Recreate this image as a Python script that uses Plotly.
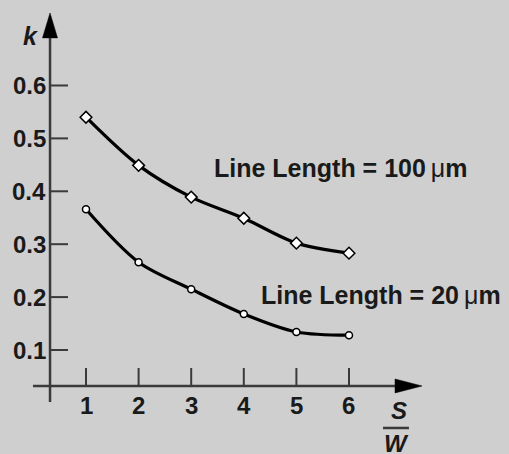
import plotly.graph_objects as go

# ---- data ----
sw_ratio = [1, 2, 3, 4, 5, 6]
k_100um = [0.540, 0.449, 0.389, 0.349, 0.302, 0.283]
k_20um = [0.366, 0.266, 0.215, 0.168, 0.134, 0.128]
y_ticks = [0.1, 0.2, 0.3, 0.4, 0.5, 0.6]
y_tick_labels = ["0.1", "0.2", "0.3", "0.4", "0.5", "0.6"]
x_ticks = [1, 2, 3, 4, 5, 6]
x_tick_labels = ["1", "2", "3", "4", "5", "6"]
label_100 = "Line Length = 100<span style=\"font-weight:normal\">\u2009\u03bc</span>m"
label_20 = "Line Length = 20<span style=\"font-weight:normal\">\u2009\u03bc</span>m"

BG = "#cfcfcf"
AX = "#3a3a3a"
FONT = "Liberation Sans, Arial, sans-serif"

# axis geometry (data units)
x_axis_level = 0.032
y_axis_pos = 0.316

fig = go.Figure()

fig.add_trace(go.Scatter(
    x=sw_ratio, y=k_100um, mode="lines+markers",
    line=dict(color="black", width=3.2, shape="spline", smoothing=0.9),
    marker=dict(symbol="diamond", size=9, color="white",
                line=dict(color="black", width=1.5)),
    showlegend=False, hoverinfo="skip"))
fig.add_trace(go.Scatter(
    x=sw_ratio, y=k_20um, mode="lines+markers",
    line=dict(color="black", width=3.2, shape="spline", smoothing=0.9),
    marker=dict(symbol="circle", size=7, color="white",
                line=dict(color="black", width=1.5)),
    showlegend=False, hoverinfo="skip"))

shapes = []
# y axis line
shapes.append(dict(type="line", x0=y_axis_pos, x1=y_axis_pos, y0=0.0017, y1=0.70,
                   line=dict(color=AX, width=2.5), layer="below"))
# y arrow head
shapes.append(dict(type="path",
                   path=f"M {y_axis_pos-0.143},0.690 L {y_axis_pos+0.143},0.690 L {y_axis_pos},0.737 Z",
                   fillcolor="black", line=dict(color="black", width=0.5)))
# x axis line
shapes.append(dict(type="line", x0=-0.008, x1=6.9, y0=x_axis_level, y1=x_axis_level,
                   line=dict(color=AX, width=2.5), layer="below"))
shapes.append(dict(type="path",
                   path=f"M 6.875,{x_axis_level-0.0132} L 6.875,{x_axis_level+0.0132} L 7.388,{x_axis_level} Z",
                   fillcolor="black", line=dict(color="black", width=0.5)))
# y ticks
for yv in y_ticks:
    shapes.append(dict(type="line", x0=y_axis_pos, x1=0.658, y0=yv, y1=yv,
                       line=dict(color=AX, width=2), layer="below"))
# x ticks
for xv in x_ticks:
    shapes.append(dict(type="line", x0=xv, x1=xv, y0=x_axis_level, y1=0.066,
                       line=dict(color=AX, width=2), layer="below"))
# fraction bar for S/W
shapes.append(dict(type="line", x0=6.646, x1=7.14, y0=-0.0474, y1=-0.0474,
                   line=dict(color=AX, width=2.5)))

annotations = []
for yv, lab in zip(y_ticks, y_tick_labels):
    annotations.append(dict(x=0.27, y=yv, text=f"<b>{lab}</b>", showarrow=False,
                            xanchor="right", yanchor="middle",
                            font=dict(family=FONT, size=24, color="#1a1a1a")))
for xv, lab in zip(x_ticks, x_tick_labels):
    annotations.append(dict(x=xv, y=-0.004, text=f"<b>{lab}</b>", showarrow=False,
                            xanchor="center", yanchor="middle",
                            font=dict(family=FONT, size=24, color="#1a1a1a")))
annotations.append(dict(x=-0.046, y=0.694, text="<b><i>k</i></b>", showarrow=False,
                        xanchor="center", yanchor="middle",
                        font=dict(family=FONT, size=25, color="#1a1a1a")))
annotations.append(dict(x=6.95, y=-0.0153, text="<b><i>S</i></b>", showarrow=False,
                        xanchor="center", yanchor="middle",
                        font=dict(family=FONT, size=24, color="#1a1a1a")))
annotations.append(dict(x=6.90, y=-0.0758, text="<b><i>W</i></b>", showarrow=False,
                        xanchor="center", yanchor="middle",
                        font=dict(family=FONT, size=24, color="#1a1a1a")))
annotations.append(dict(x=3.40, y=0.444, text=f"<b>{label_100}</b>", showarrow=False,
                        xanchor="left", yanchor="middle",
                        font=dict(family=FONT, size=25, color="#1a1a1a")))
annotations.append(dict(x=4.29, y=0.204, text=f"<b>{label_20}</b>", showarrow=False,
                        xanchor="left", yanchor="middle",
                        font=dict(family=FONT, size=25, color="#1a1a1a")))

fig.update_layout(
    width=509, height=454, autosize=False,
    margin=dict(l=0, r=0, t=0, b=0, pad=0),
    paper_bgcolor=BG, plot_bgcolor=BG,
    xaxis=dict(range=[-0.635, 9.042], visible=False, fixedrange=True),
    yaxis=dict(range=[-0.0966, 0.7616], visible=False, fixedrange=True),
    shapes=shapes, annotations=annotations,
)

fig.write_html("out.html", config=dict(displayModeBar=False),
               post_script="document.body.style.margin='0px';document.body.style.background='#cfcfcf';")
